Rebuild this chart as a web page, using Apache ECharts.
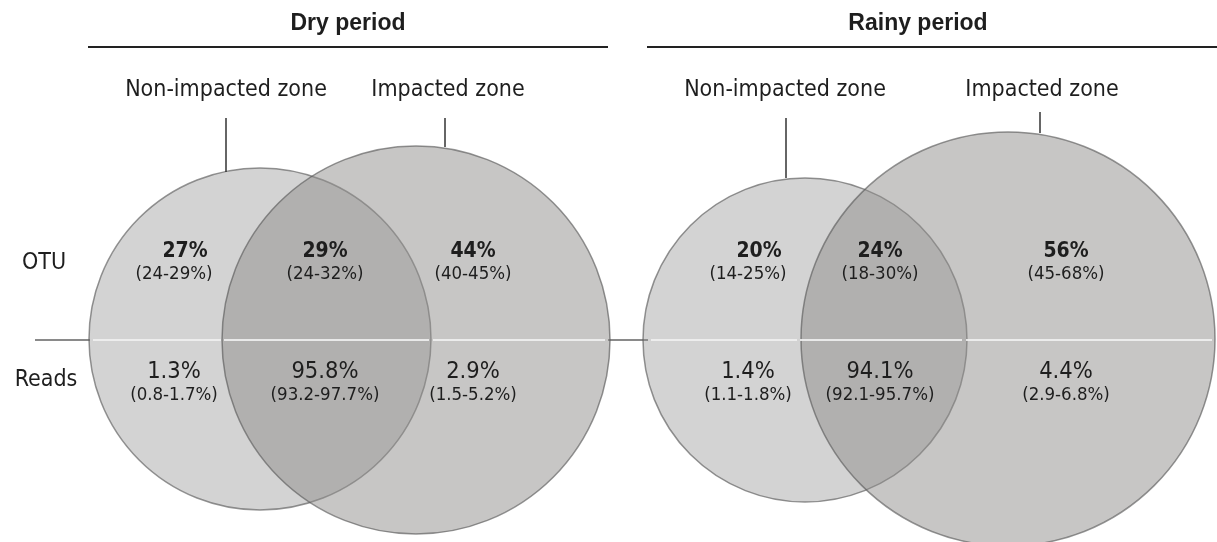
<!DOCTYPE html>
<html><head><meta charset="utf-8">
<script src="https://cdn.jsdelivr.net/npm/echarts@6/dist/echarts.min.js"></script>
<style>html,body{margin:0;padding:0;background:#fff}#c{width:1217px;height:542px}</style>
</head><body><div id="c"></div>
<script>
// ---------- data ----------
const periods = ['Dry period', 'Rainy period'];
const zones = ['Non-impacted zone', 'Impacted zone'];
const rowLabels = ['OTU', 'Reads'];
const dryOtu = [27, 29, 44];
const dryOtuRange = [[24, 29], [24, 32], [40, 45]];
const dryReads = [1.3, 95.8, 2.9];
const dryReadsRange = [[0.8, 1.7], [93.2, 97.7], [1.5, 5.2]];
const rainyOtu = [20, 24, 56];
const rainyOtuRange = [[14, 25], [18, 30], [45, 68]];
const rainyReads = [1.4, 94.1, 4.4];
const rainyReadsRange = [[1.1, 1.8], [92.1, 95.7], [2.9, 6.8]];

// ---------- layout (drawing units mapped through hidden axes) ----------
const W = 1217, H = 542;
const panelLayout = [
  { title: [348, 24], rule: [88, 608, 47], zoneLabel: [[226, 90], [448, 90]],
    ticks: [[226, 118, 172], [445, 118, 147]], regionX: [174, 325, 473],
    circles: [[260, 339, 171], [416, 340, 194]],
    light: [[93, 221], [224, 429], [433, 605]] },
  { title: [918, 24], rule: [647, 1217, 47], zoneLabel: [[785, 90], [1042, 90]],
    ticks: [[786, 118, 178], [1040, 112, 133]], regionX: [748, 880, 1066],
    circles: [[805, 340, 162], [1008, 339, 207]],
    light: [[651, 797], [800, 962], [966, 1212]] }
];
const midY = 340;
const grayRule = [[35, 90], [608, 648]];
const rowLabelPos = [[44, 263], [46, 380]];
const rowY = { otu: 252, otuR: 274, reads: 372, readsR: 395 };
const circleFill = ['rgba(143,143,143,0.393)', 'rgba(143,142,139,0.5)'];

const allData = [
  { otu: dryOtu, otuR: dryOtuRange, reads: dryReads, readsR: dryReadsRange },
  { otu: rainyOtu, otuR: rainyOtuRange, reads: rainyReads, readsR: rainyReadsRange }
];

// ---------- build marks ----------
const circles = [], lights = [], grays = [], blacks = [], texts = [];
const FONT = '"DejaVu Sans Condensed", "DejaVu Sans", sans-serif';
panelLayout.forEach((p, pi) => {
  p.circles.forEach((c, ci) => circles.push([c[0], c[1], c[2], ci]));
  p.light.forEach(s => lights.push([s[0], midY, s[1], midY]));
  blacks.push([p.rule[0], p.rule[2], p.rule[1], p.rule[2], 2, '#222']);
  p.ticks.forEach(t => blacks.push([t[0], t[1], t[0], t[2], 1.5, '#333']));
  texts.push({ x: p.title[0], y: p.title[1], text: periods[pi], size: 23, weight: 'bold', family: '"Liberation Sans", Arial, sans-serif' });
  zones.forEach((z, zi) => texts.push({ x: p.zoneLabel[zi][0], y: p.zoneLabel[zi][1], text: z, size: 23, weight: 'normal', family: FONT }));
  const d = allData[pi];
  p.regionX.forEach((x, ri) => {
    texts.push({ x: x + (ri === 0 ? 11 : 0), y: rowY.otu, text: d.otu[ri] + '%', size: 21, weight: 'bold', family: FONT });
    texts.push({ x: x, y: rowY.otuR, text: '(' + d.otuR[ri][0] + '-' + d.otuR[ri][1] + '%)', size: 18.5, weight: 'normal', family: FONT });
    texts.push({ x: x, y: rowY.reads, text: d.reads[ri].toFixed(1) + '%', size: 23.5, weight: 'normal', family: FONT });
    texts.push({ x: x, y: rowY.readsR, text: '(' + d.readsR[ri][0].toFixed(1) + '-' + d.readsR[ri][1].toFixed(1) + '%)', size: 18.5, weight: 'normal', family: FONT });
  });
});
grayRule.forEach(s => grays.push([s[0], midY, s[1], midY]));
rowLabels.forEach((r, i) => texts.push({ x: rowLabelPos[i][0], y: rowLabelPos[i][1], text: r, size: 23, weight: 'normal', family: FONT }));

function lineSeries(data, color, width) {
  return {
    type: 'custom', data: data, silent: true,
    renderItem: (params, api) => {
      const a = api.coord([api.value(0), api.value(1)]);
      const b = api.coord([api.value(2), api.value(3)]);
      return { type: 'line', shape: { x1: a[0], y1: a[1], x2: b[0], y2: b[1] },
        style: { stroke: color, lineWidth: width } };
    }
  };
}

const chart = echarts.init(document.getElementById('c'), null, { renderer: 'canvas' });
chart.setOption({
  animation: false,
  backgroundColor: '#fff',
  grid: { left: 0, right: 0, top: 0, bottom: 0 },
  xAxis: { type: 'value', min: 0, max: W, show: false },
  yAxis: { type: 'value', min: 0, max: H, inverse: true, show: false },
  series: [
    lineSeries(grays, '#8a8a8a', 2),
    {
      type: 'custom', data: circles, silent: true,
      renderItem: (params, api) => {
        const c = api.coord([api.value(0), api.value(1)]);
        const r = api.size([api.value(2), 0])[0];
        return { type: 'circle', shape: { cx: c[0], cy: c[1], r: r },
          style: { fill: circleFill[api.value(3)], stroke: 'rgba(90,90,90,0.65)', lineWidth: 1.5 } };
      }
    },
    lineSeries(lights, 'rgba(240,240,240,0.9)', 2),
    {
      type: 'custom', data: blacks, silent: true,
      renderItem: (params, api) => {
        const a = api.coord([api.value(0), api.value(1)]);
        const b = api.coord([api.value(2), api.value(3)]);
        const it = blacks[params.dataIndex];
        return { type: 'line', shape: { x1: a[0], y1: a[1], x2: b[0], y2: b[1] },
          style: { stroke: it[5], lineWidth: it[4] } };
      }
    },
    {
      type: 'custom', data: texts.map(t => [t.x, t.y]), silent: true,
      renderItem: (params, api) => {
        const p = api.coord([api.value(0), api.value(1)]);
        const t = texts[params.dataIndex];
        return { type: 'text', x: p[0], y: p[1],
          style: { text: t.text, fontSize: t.size, fontWeight: t.weight, fontFamily: t.family,
            fill: '#1e1e1e', align: 'center', verticalAlign: 'middle' } };
      }
    }
  ]
});
</script></body></html>
